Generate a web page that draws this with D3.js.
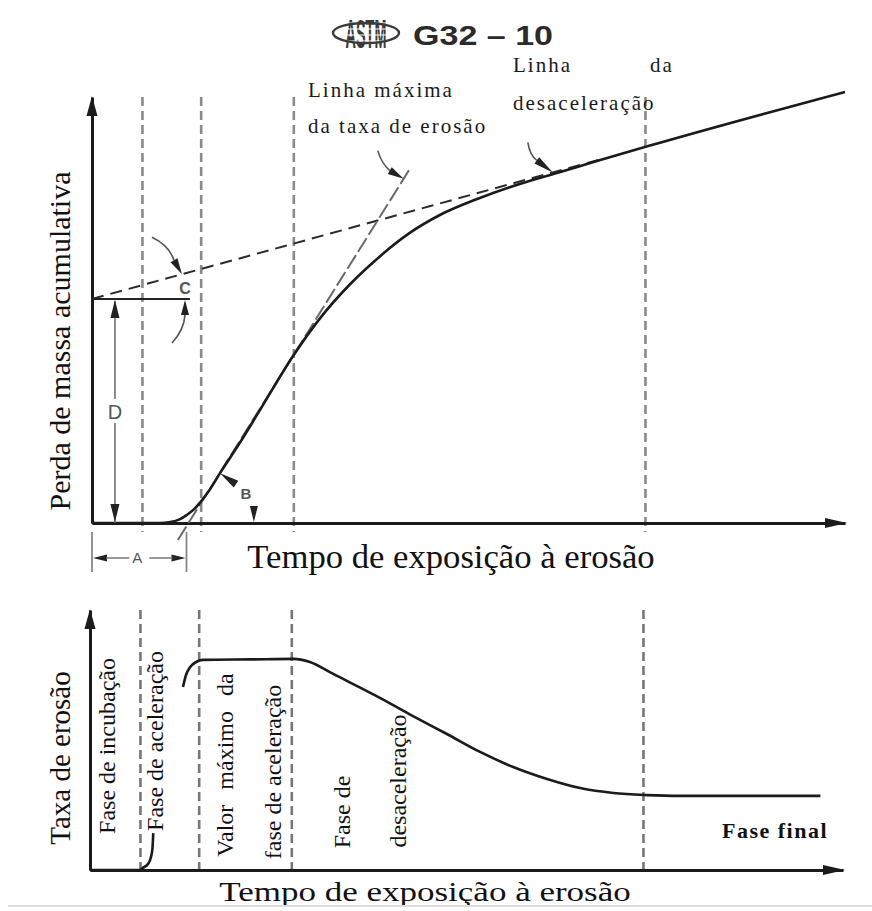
<!DOCTYPE html>
<html><head><meta charset="utf-8">
<script src="https://cdn.jsdelivr.net/npm/d3@7"></script>
<style>body{margin:0;background:#fff}svg{display:block}</style>
</head><body>
<svg id="chart" width="872" height="911"></svg>
<script>
// ---------------- data ----------------
const titleCode = "G32 – 10";
const logoText = "ASTM";
const axisTitleTime = "Tempo de exposição à erosão";
const axisTitleMass = "Perda de massa acumulativa";
const axisTitleRate = "Taxa de erosão";
const lineLabels = ["Linha máxima", "da taxa de erosão", "Linha", "da", "desaceleração"];
const phaseLabels = ["Fase de incubação", "Fase de aceleração", "Valor  máximo  da", "fase de aceleração", "Fase de", "desaceleração"];
const finalPhaseLabel = "Fase final";
const markLetters = ["A", "B", "C", "D"];

// phase boundaries (time units, 0-100)
const phaseBounds = [6.7, 14.5, 26.8, 73.5];

// cumulative mass loss curve
const massTime = [0, 9.0, 10.4, 11.7, 12.6, 13.6, 14.3, 15.7, 17.0, 19.7, 22.3, 26.7, 30.3, 34.3, 38.3, 42.2, 46.2, 51.5, 56.8, 62.2, 67.5, 74.1, 100];
const massLoss = [0, 0, 0.2, 0.9, 1.9, 3.3, 4.7, 8.0, 11.7, 19.0, 26.5, 39.2, 48.1, 56.1, 62.7, 68.1, 72.3, 76.3, 79.6, 82.4, 85.2, 88.6, 101.2];

// deceleration (terminal) line, dashed part
const decelTime = [0, 68];
const decelMass = [52.6, 85.6];

// maximum erosion-rate tangent line
const tangentTime = [11.4, 42.2];
const tangentMass = [-4.0, 83.1];

// erosion rate curve: incubation rise and main part
const incubTime = [0, 6.6, 7.0, 7.7, 8.1, 8.3, 8.4];
const incubRate = [0, 0, 0.8, 2.3, 5.0, 8.5, 14.2];
const rateTime = [12.35, 12.75, 13.3, 14.1, 15.0, 21.3, 27.0, 29.2, 32.3, 38.5, 42.9, 47.4, 51.8, 56.2, 60.7, 65.1, 69.5, 74.0, 78.4, 97.0];
const rateVal = [70.4, 75.0, 78.1, 80.0, 80.8, 81.0, 81.2, 80.0, 75.4, 66.2, 59.2, 52.3, 45.4, 39.6, 35.0, 31.5, 29.6, 28.8, 28.5, 28.5];

// ---------------- drawing ----------------
const svg = d3.select("#chart");
const SERIF = "'Liberation Serif','Times New Roman',serif";
const SANS = "'Liberation Sans',Arial,sans-serif";
const INK = "#1b1b1b";

const xTop = d3.scaleLinear().domain([0, 100]).range([92, 845]);
const yTop = d3.scaleLinear().domain([0, 100]).range([523, 97]);
const xBot = d3.scaleLinear().domain([0, 100]).range([90, 843]);
const yBot = d3.scaleLinear().domain([0, 100]).range([870, 610]);

const zip = (a, b) => a.map((v, i) => [v, b[i]]);
const lerpAt = (ts, vs, t) => vs[0] + (t - ts[0]) * (vs[1] - vs[0]) / (ts[1] - ts[0]);

function wedge(g, tip, base, w, fill) {
  const dx = tip[0] - base[0], dy = tip[1] - base[1], L = Math.hypot(dx, dy);
  const nx = -dy / L * w / 2, ny = dx / L * w / 2;
  g.append("path")
    .attr("d", `M${tip[0]},${tip[1]}L${base[0] + nx},${base[1] + ny}L${base[0] - nx},${base[1] - ny}Z`)
    .attr("fill", fill);
}

function axesWithArrows(x, y) {
  svg.append("g").attr("transform", `translate(0,${y(0)})`)
    .call(d3.axisBottom(x).tickValues([]).tickSizeOuter(0))
    .call(g => g.select(".domain").attr("stroke", INK).attr("stroke-width", 3));
  svg.append("g").attr("transform", `translate(${x(0)},0)`)
    .call(d3.axisLeft(y).tickValues([]).tickSizeOuter(0))
    .call(g => g.select(".domain").attr("stroke", INK).attr("stroke-width", 3));
  const g = svg.append("g");
  wedge(g, [x(100) + 2, y(0)], [x(100) - 20, y(0)], 10, INK);
  wedge(g, [x(0), y(100) - 1], [x(0), y(100) + 19], 11, INK);
}

// phase boundary dashed lines
function phaseLines(x, y, extraBottom, color) {
  svg.append("g").selectAll("line").data(phaseBounds).join("line")
    .attr("x1", d => x(d)).attr("x2", d => x(d))
    .attr("y1", y(100)).attr("y2", y(0) + extraBottom)
    .attr("stroke", color).attr("stroke-width", 2.6).attr("stroke-dasharray", "9 5");
}

// ----- header -----
const logo = svg.append("g").attr("transform", "translate(366,33)");
logo.append("text").attr("text-anchor", "middle").attr("transform", "translate(0,15) scale(0.8,2.3)")
  .attr("font-family", SANS).attr("font-weight", "bold").attr("font-size", 18)
  .attr("fill", "#3a3a3a").text(logoText);
[-10, -4, 2, 8].forEach(dy => logo.append("line").attr("x1", -26).attr("x2", 26)
  .attr("y1", dy).attr("y2", dy).attr("stroke", "#fff").attr("stroke-width", 1.2));
logo.append("ellipse").attr("rx", 33).attr("ry", 10).attr("fill", "none")
  .attr("stroke", "#3a3a3a").attr("stroke-width", 2.4);
svg.append("text").attr("x", 413).attr("y", 45)
  .attr("font-family", SANS).attr("font-weight", "bold").attr("font-size", 28)
  .attr("textLength", 140).attr("lengthAdjust", "spacingAndGlyphs")
  .attr("fill", "#2b2b2b").text(titleCode);

// ----- top panel -----
phaseLines(xTop, yTop, 9, "#8a8a8a");
axesWithArrows(xTop, yTop);

// deceleration dashed line
svg.append("path").datum(zip(decelTime, decelMass))
  .attr("d", d3.line().x(d => xTop(d[0])).y(d => yTop(d[1])))
  .attr("fill", "none").attr("stroke", "#2a2a2a").attr("stroke-width", 2).attr("stroke-dasharray", "12 7");

// tangent (max erosion rate) line
svg.append("path").datum(zip(tangentTime, tangentMass))
  .attr("d", d3.line().x(d => xTop(d[0])).y(d => yTop(d[1])))
  .attr("fill", "none").attr("stroke", "#6a6a6a").attr("stroke-width", 2).attr("stroke-dasharray", "16 4");

// mass loss curve
svg.append("path").datum(zip(massTime, massLoss))
  .attr("d", d3.line().curve(d3.curveMonotoneX).x(d => xTop(d[0])).y(d => yTop(d[1])))
  .attr("fill", "none").attr("stroke", INK).attr("stroke-width", 2.6);

// annotations anchored to data
const ann = svg.append("g");
const annInk = "#222";
function pointer(anchor, tailStart, ctrl, base) {
  const P = (o) => [anchor[0] + o[0], anchor[1] + o[1]];
  const s = P(tailStart), c = P(ctrl), b = P(base);
  ann.append("path").attr("d", `M${s[0]},${s[1]}Q${c[0]},${c[1]} ${b[0]},${b[1]}`)
    .attr("fill", "none").attr("stroke", "#555").attr("stroke-width", 1.6);
  wedge(ann, anchor, b, 8, annInk);
}
// max-rate line pointer
const tMax = 41.4;
const pMax = [xTop(tMax), yTop(lerpAt(tangentTime, tangentMass, tMax))];
pointer(pMax, [-26, -28], [-22, -15], [-14, -8]);
// deceleration line pointer
const tDec = 61.2;
const pDec = [xTop(tDec), yTop(lerpAt(decelTime, decelMass, tDec))];
pointer(pDec, [-25, -30], [-23, -17], [-16, -12]);
// angle C: upper arrow on dashed line
const tC = 11.95;
const pC = [xTop(tC), yTop(lerpAt(decelTime, decelMass, tC))];
pointer(pC, [-30, -37], [-13, -29], [-8, -14]);
// horizontal reference line at intercept
const yIntercept = yTop(decelMass[0]);
ann.append("line").attr("x1", xTop(0)).attr("x2", xTop(13.0)).attr("y1", yIntercept).attr("y2", yIntercept)
  .attr("stroke", annInk).attr("stroke-width", 2);
// angle C lower arrow
const pC2 = [xTop(12.35), yIntercept + 1];
pointer(pC2, [-13, 43], [-1, 30], [0, 15]);
ann.append("text").attr("x", pC[0] + 3).attr("y", pC[1] + 20).attr("text-anchor", "middle")
  .attr("font-family", SANS).attr("font-weight", "bold").attr("font-size", 16).attr("fill", "#555").text(markLetters[2]);
// D dimension
const xD = xTop(3.05);
const yDmid = (yIntercept + yTop(0)) / 2;
ann.append("line").attr("x1", xD).attr("x2", xD).attr("y1", yIntercept + 2).attr("y2", yDmid - 12)
  .attr("stroke", "#666").attr("stroke-width", 1.5);
ann.append("line").attr("x1", xD).attr("x2", xD).attr("y1", yDmid + 12).attr("y2", yTop(0))
  .attr("stroke", "#666").attr("stroke-width", 1.5);
wedge(ann, [xD, yIntercept + 1], [xD, yIntercept + 19], 9, annInk);
wedge(ann, [xD, yTop(0) - 1], [xD, yTop(0) - 19], 9, annInk);
ann.append("text").attr("x", xD).attr("y", yDmid + 8).attr("text-anchor", "middle")
  .attr("font-family", SANS).attr("font-size", 20).attr("fill", "#555").text(markLetters[3]);
// A dimension (incubation period, from origin to tangent intercept)
const tA = tangentTime[0] - tangentMass[0] * (tangentTime[1] - tangentTime[0]) / (tangentMass[1] - tangentMass[0]);
const xA0 = xTop(0), xA1 = xTop(tA) - 2, yA = yTop(0) + 35;
[xA0, xA1].forEach(xx => ann.append("line").attr("x1", xx).attr("x2", xx).attr("y1", yTop(0) + 9).attr("y2", yTop(0) + 49)
  .attr("stroke", "#888").attr("stroke-width", 1.8));
wedge(ann, [xA0 + 1, yA], [xA0 + 15, yA], 7, annInk);
wedge(ann, [xA1 - 1, yA], [xA1 - 15, yA], 7, annInk);
ann.append("line").attr("x1", xA0 + 14).attr("x2", (xA0 + xA1) / 2 - 10).attr("y1", yA).attr("y2", yA).attr("stroke", "#777").attr("stroke-width", 1.5);
ann.append("line").attr("x1", (xA0 + xA1) / 2 + 10).attr("x2", xA1 - 14).attr("y1", yA).attr("y2", yA).attr("stroke", "#777").attr("stroke-width", 1.5);
ann.append("text").attr("x", (xA0 + xA1) / 2 - 2).attr("y", yA + 5).attr("text-anchor", "middle")
  .attr("font-family", SANS).attr("font-size", 15).attr("fill", "#555").text(markLetters[0]);
// B angle
const pB = [xTop(17.0), yTop(11.7)];
wedge(ann, pB, [pB[0] + 16, pB[1] + 11], 8, annInk);
const pB2 = [xTop(21.5), yTop(0) - 1];
wedge(ann, pB2, [pB2[0], pB2[1] - 16], 8, annInk);
ann.append("text").attr("x", pB[0] + 26).attr("y", pB[1] + 26).attr("text-anchor", "middle")
  .attr("font-family", SANS).attr("font-weight", "bold").attr("font-size", 15).attr("fill", "#555").text(markLetters[1]);

// line labels
const lbl = (x, y, t) => svg.append("text").attr("x", x).attr("y", y)
  .attr("font-family", SERIF).attr("font-size", 21).attr("letter-spacing", 2).attr("fill", "#1a1a1a").text(t);
lbl(308, 97, lineLabels[0]);
lbl(308, 133, lineLabels[1]);
lbl(513, 72, lineLabels[2]);
lbl(650, 72, lineLabels[3]);
lbl(513, 110, lineLabels[4]);

// axis titles top
svg.append("text").attr("transform", "translate(451,568) scale(1.05,1)").attr("text-anchor", "middle")
  .attr("font-family", SERIF).attr("font-size", 33).attr("fill", "#111").text(axisTitleTime);
svg.append("text").attr("transform", "translate(70,341) rotate(-90)").attr("text-anchor", "middle")
  .attr("font-family", SERIF).attr("font-size", 30).attr("fill", "#111").text(axisTitleMass);

// ----- bottom panel -----
phaseLines(xBot, yBot, 0, "#777");
axesWithArrows(xBot, yBot);
const rateLine = d3.line().curve(d3.curveMonotoneX).x(d => xBot(d[0])).y(d => yBot(d[1]));
svg.append("path").datum(zip(incubTime, incubRate)).attr("d", rateLine)
  .attr("fill", "none").attr("stroke", INK).attr("stroke-width", 2.6);
svg.append("path").datum(zip(rateTime, rateVal)).attr("d", rateLine)
  .attr("fill", "none").attr("stroke", INK).attr("stroke-width", 2.6);

// phase labels (vertical)
const phasePos = [[115, 746], [163, 741], [233, 765], [281, 772], [350, 812], [406, 781]];
phaseLabels.forEach((t, i) => {
  svg.append("text").attr("transform", `translate(${phasePos[i][0]},${phasePos[i][1]}) rotate(-90)`)
    .attr("text-anchor", "middle").attr("font-family", SERIF).attr("font-size", 24)
    .attr("word-spacing", i === 2 ? 1.5 : 0).attr("xml:space", "preserve").style("white-space", "pre")
    .attr("fill", "#111").text(t);
});
svg.append("text").attr("x", 775).attr("y", 838).attr("text-anchor", "middle")
  .attr("font-family", SERIF).attr("font-weight", "bold").attr("font-size", 22).attr("letter-spacing", 1.5)
  .attr("fill", "#111").text(finalPhaseLabel);

svg.append("text").attr("transform", "translate(70,758) rotate(-90)").attr("text-anchor", "middle")
  .attr("font-family", SERIF).attr("font-size", 29).attr("fill", "#111").text(axisTitleRate);
svg.append("text").attr("transform", "translate(425,901) scale(1.25,1)").attr("text-anchor", "middle")
  .attr("font-family", SERIF).attr("font-size", 28).attr("fill", "#111").text(axisTitleTime);

// faint bottom border line
svg.append("line").attr("x1", 8).attr("x2", 872).attr("y1", 906).attr("y2", 906)
  .attr("stroke", "#dcdcdc").attr("stroke-width", 2);
</script>
</body></html>
